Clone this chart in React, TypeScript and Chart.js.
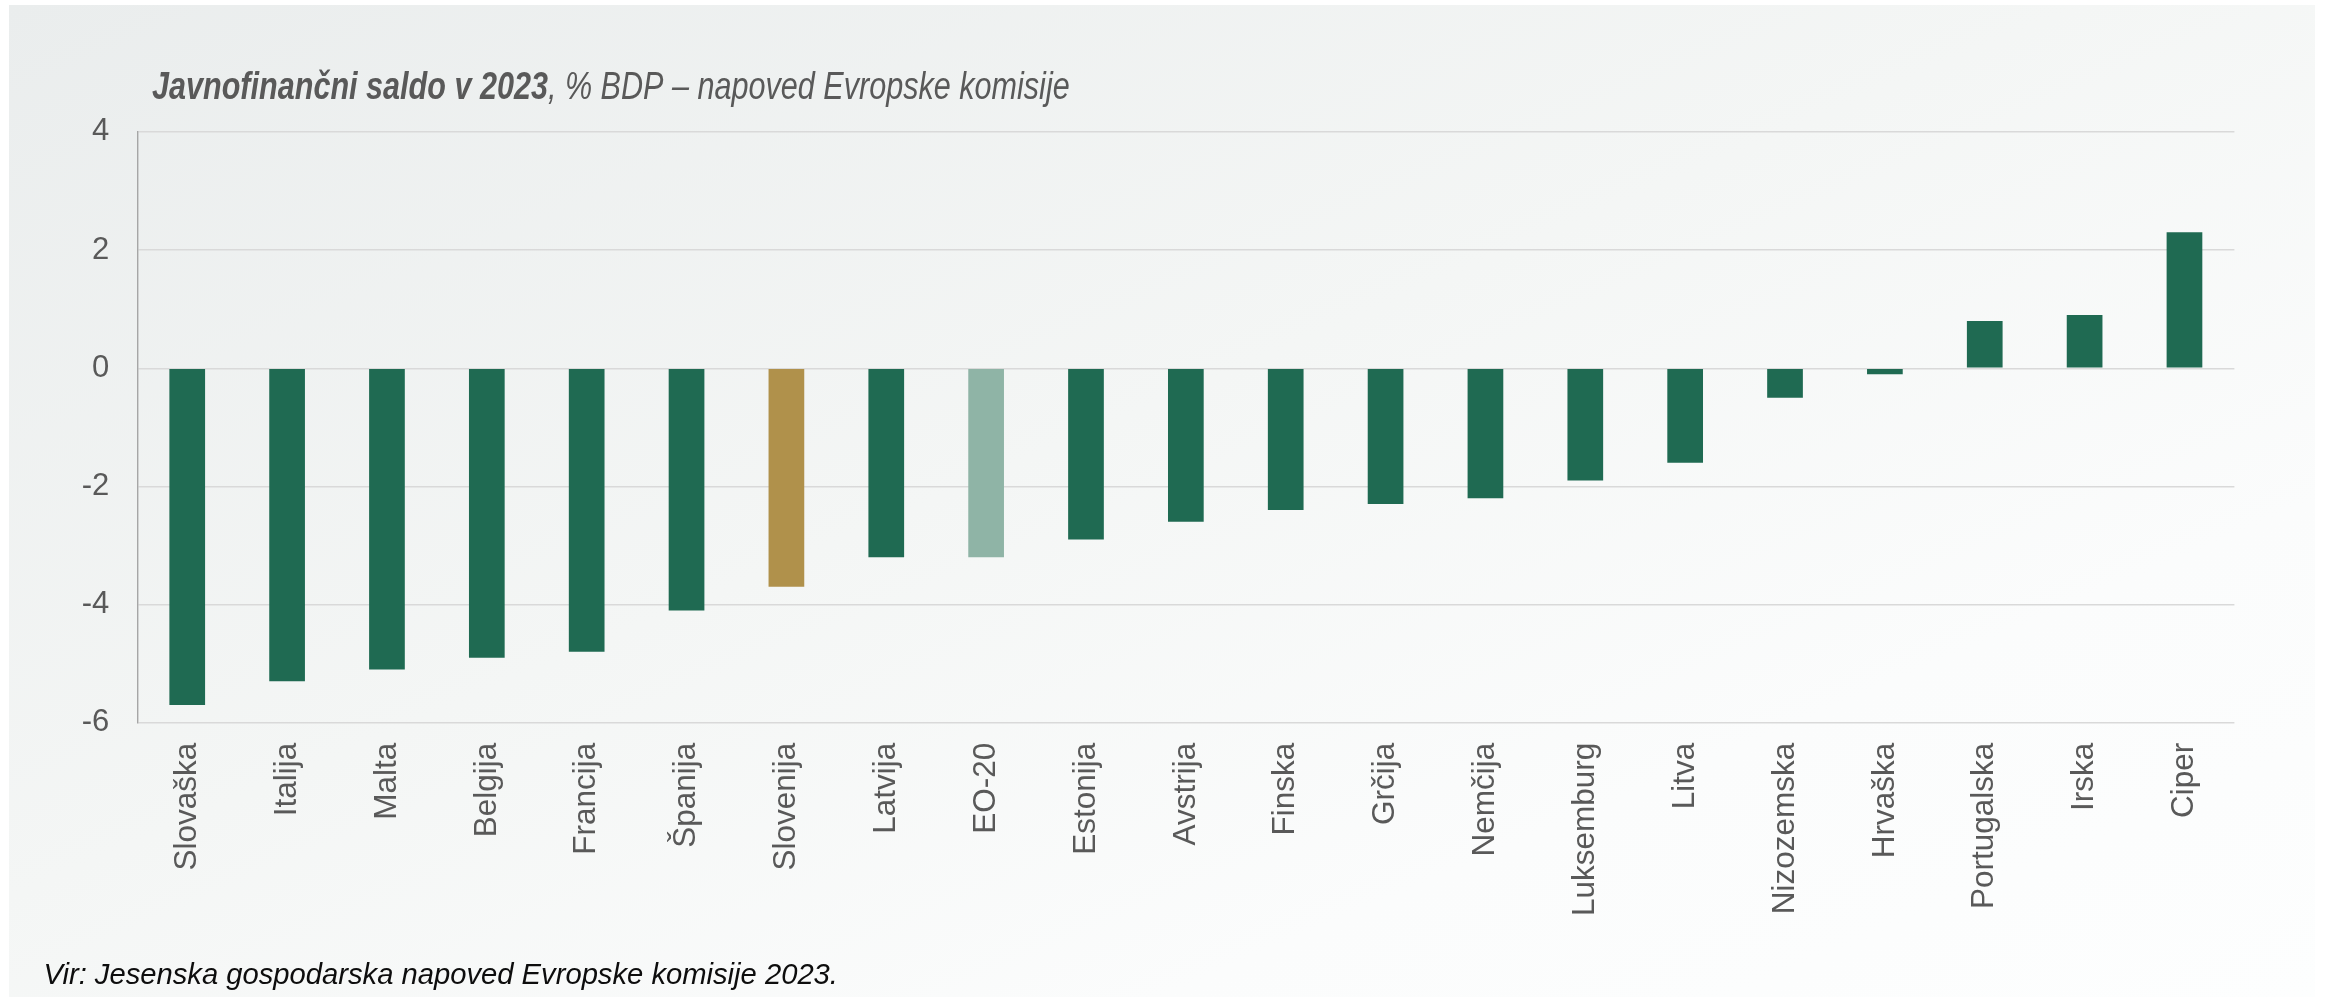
import React, { useEffect, useRef } from "react";
import { Chart, registerables } from "chart.js";

Chart.register(...registerables);

const categories: string[] = [
  "Slovaška", "Italija", "Malta", "Belgija", "Francija", "Španija", "Slovenija",
  "Latvija", "EO-20", "Estonija", "Avstrija", "Finska", "Grčija", "Nemčija",
  "Luksemburg", "Litva", "Nizozemska", "Hrvaška", "Portugalska", "Irska", "Ciper",
];

const balance2023: number[] = [
  -5.7, -5.3, -5.1, -4.9, -4.8, -4.1, -3.7,
  -3.2, -3.2, -2.9, -2.6, -2.4, -2.3, -2.2,
  -1.9, -1.6, -0.5, -0.1, 0.8, 0.9, 2.3,
];

const yTicks: number[] = [-6, -4, -2, 0, 2, 4];

const titleBold = "Javnofinančni saldo v 2023";
const titleRest = ", % BDP – napoved Evropske komisije";
const sourceNote = "Vir: Jesenska gospodarska napoved Evropske komisije 2023.";

const W = 2326;
const H = 998;
const FONT = "'Liberation Sans', Arial, Helvetica, sans-serif";

const GREEN = "#1f6a52";
const GOLD = "#b0914b";
const LIGHT = "#8fb4a6";

function barColor(cat: string): string {
  if (cat === "Slovenija") return GOLD;
  if (cat === "EO-20") return LIGHT;
  return GREEN;
}

const textPlugin = {
  id: "textPlugin",
  afterDraw(chart: any) {
    const ctx = chart.ctx as CanvasRenderingContext2D;
    ctx.save();
    // title (narrow style)
    ctx.translate(152, 99);
    ctx.scale(0.784, 1);
    ctx.fillStyle = "#595959";
    ctx.textBaseline = "alphabetic";
    ctx.textAlign = "left";
    ctx.font = `italic bold 39px ${FONT}`;
    ctx.fillText(titleBold, 0, 0);
    const w = ctx.measureText(titleBold).width;
    ctx.font = `italic 39px ${FONT}`;
    ctx.fillText(titleRest, w, 0);
    ctx.restore();

    ctx.save();
    ctx.fillStyle = "#0d0d0d";
    ctx.font = `italic 29.2px ${FONT}`;
    ctx.textBaseline = "alphabetic";
    ctx.textAlign = "left";
    ctx.fillText(sourceNote, 43.5, 984);
    ctx.restore();
  },
};

export default function App() {
  const ref = useRef<HTMLCanvasElement>(null);

  useEffect(() => {
    if (!ref.current) return;
    const chart = new Chart(ref.current, {
      type: "bar",
      data: {
        labels: categories,
        datasets: [
          {
            data: balance2023,
            backgroundColor: categories.map(barColor),
            borderWidth: 0,
            barPercentage: 0.3575,
            categoryPercentage: 1,
          },
        ],
      },
      options: {
        responsive: false,
        animation: false,
        devicePixelRatio: 1,
        layout: { padding: { top: 131.9, right: 91.6, left: 0, bottom: 0 } },
        plugins: {
          legend: { display: false },
          tooltip: { enabled: false },
          title: { display: false },
        },
        scales: {
          x: {
            grid: { display: false, drawTicks: false },
            border: { display: false },
            ticks: {
              autoSkip: false,
              maxRotation: 90,
              minRotation: 90,
              padding: 20,
              color: "#595959",
              font: { family: FONT, size: 31.5 },
            },
            afterFit(scale: any) {
              scale.height = H - 722.7;
            },
          },
          y: {
            min: -6,
            max: 4,
            afterBuildTicks(scale: any) {
              scale.ticks = yTicks.map((v) => ({ value: v }));
            },
            grid: { color: "#d9d9d9", lineWidth: 1.4, drawTicks: false },
            border: { display: true, color: "#a6a6a6", width: 1.4 },
            ticks: {
              padding: 28,
              color: "#595959",
              font: { family: FONT, size: 31 },
            },
            afterFit(scale: any) {
              scale.width = 137.3;
            },
          },
        },
      },
      plugins: [textPlugin],
    });
    return () => chart.destroy();
  }, []);

  return (
    <div style={{ position: "fixed", left: 0, top: 0, width: W, height: H, background: "#ffffff", overflow: "hidden" }}>
      <div
        style={{
          position: "absolute",
          left: 9,
          top: 5,
          width: 2306,
          height: 992,
          background: "linear-gradient(to bottom right, #eaeded 0%, #f4f6f5 45%, #fbfcfc 75%, #fdfefe 100%)",
        }}
      />
      <canvas ref={ref} width={W} height={H} style={{ position: "absolute", left: 0, top: 0, width: W, height: H }} />
    </div>
  );
}
